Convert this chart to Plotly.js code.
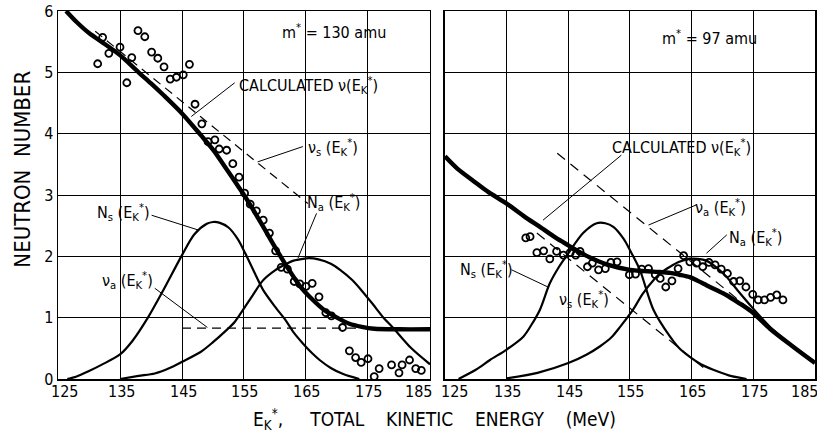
<!DOCTYPE html>
<html>
<head>
<meta charset="utf-8">
<script src="https://cdn.plot.ly/plotly-3.0.1.min.js"></script>
<style>html,body{margin:0;padding:0;background:#fff;}#chart{width:817px;height:434px;}</style>
</head>
<body>
<div id="chart"></div>
<script>
// ---------- tick labels ----------
const xTicks = [125, 135, 145, 155, 165, 175, 185];
const yTicks = [0, 1, 2, 3, 4, 5, 6];

// ---------- LEFT PANEL (m* = 130 amu) ----------
const leftObsE = [131.4,132.2,133.2,135.0,136.1,136.9,137.9,139.0,140.1,141.1,142.1,143.1,144.1,145.2,146.2,147.1,148.2,149.2,150.3,151.0,152.2,153.2,154.2,155.1,156.0,157.0,158.1,159.1,160.1,161.0,162.0,163.1,164.0,165.0,166.0,167.1,168.2,169.1,170.9,172.0,173.0,173.9,175.0,176.0,176.8,178.8,180.0,180.5,181.7,182.7,183.6];
const leftObsN = [5.14,5.57,5.31,5.41,4.83,5.24,5.68,5.58,5.33,5.23,5.09,4.89,4.92,4.96,5.13,4.48,4.16,3.87,3.90,3.75,3.73,3.51,3.29,3.03,2.85,2.74,2.59,2.38,2.09,1.82,1.79,1.59,1.55,1.51,1.56,1.34,1.08,1.03,0.84,0.46,0.35,0.27,0.33,0.04,0.17,0.23,0.10,0.23,0.31,0.17,0.14];

const leftCalcE = [126.3,128,130,132,135,138,140,142,145,148,150,152,154,155,156,158,160,162,164,166,168,170,172,174,176,180,185];
const leftCalcN = [6.0,5.82,5.64,5.5,5.28,5.0,4.82,4.63,4.33,3.98,3.74,3.45,3.15,3.0,2.84,2.5,2.15,1.82,1.52,1.3,1.12,1.0,0.9,0.85,0.82,0.81,0.81];

const leftNuSE = [131, 165.3];
const leftNuSN = [5.67, 2.86];
const leftNuAE = [145, 176];
const leftNuAN = [0.83, 0.83];

const leftNsE = [126.5,128,130,132,135,137,139.5,142,145,147,149,150,151,152.5,154,155.2,157,158.1,160,161.7,163,164.5,166,167.2,169,171,173.6];
const leftNsN = [0,0.04,0.13,0.23,0.4,0.62,1.0,1.45,2.02,2.36,2.53,2.56,2.55,2.47,2.28,2.05,1.67,1.45,1.18,0.96,0.76,0.58,0.42,0.31,0.18,0.08,0];

const leftNaE = [135,138,140.6,143,145,148,150,152,153.5,155,156.5,158,160,161.7,163,164.5,165.5,167,169,170.5,172.5,174,175.7,177.5,179,182,185];
const leftNaN = [0,0.05,0.09,0.18,0.28,0.44,0.6,0.78,0.93,1.15,1.38,1.6,1.77,1.87,1.93,1.96,1.97,1.95,1.88,1.78,1.61,1.44,1.23,1.0,0.84,0.5,0.24];

// ---------- RIGHT PANEL (m* = 97 amu) ----------
const rightObsE = [138.1,138.8,139.9,141.0,142.0,143.1,144.2,145.3,146.2,146.9,148.1,148.9,149.9,151.0,151.9,152.9,154.9,155.9,156.9,158.0,159.1,159.9,160.8,161.8,162.8,163.7,164.7,165.8,166.8,167.8,168.8,169.8,170.8,171.8,172.8,173.8,174.9,175.8,176.8,177.8,178.8,179.8];
const rightObsN = [2.30,2.32,2.06,2.09,1.96,2.08,2.02,2.06,2.02,2.08,1.83,1.89,1.78,1.80,1.90,1.91,1.70,1.71,1.79,1.80,1.70,1.64,1.50,1.60,1.80,2.01,1.91,1.89,1.83,1.90,1.86,1.79,1.72,1.59,1.60,1.50,1.38,1.29,1.29,1.33,1.37,1.29];

const rightCalcE = [125,127,129.6,132,135,138,140.4,143,145,147,148.5,151.2,155,158.8,161.5,163,164.7,166,167.4,169,170.6,172.5,174.7,177.7,181.4,185];
const rightCalcN = [3.63,3.43,3.23,3.05,2.86,2.64,2.48,2.3,2.18,2.06,1.98,1.87,1.78,1.75,1.73,1.7,1.66,1.6,1.53,1.45,1.37,1.25,1.1,0.82,0.53,0.26];

const rightNuAE = [143.2, 177];
const rightNuAN = [3.68, 0.93];
const rightNuSE = [139.9, 167.1];
const rightNuSN = [2.38, 0.17];

const rightNsE = [127.2,130,132.3,135,137.7,139,140.4,142,143.5,145,147.4,149.6,151,152.3,154,155,156.6,158.8,161.5,163,164.7,166.5,168.5,171,173.9];
const rightNsN = [0,0.15,0.31,0.48,0.69,0.88,1.13,1.56,1.83,2.05,2.38,2.54,2.54,2.48,2.28,2.1,1.78,1.13,0.69,0.5,0.36,0.24,0.15,0.06,0];

const rightNaE = [135,140,145,148,150.1,152,153.4,155.5,157,158.8,160,161.5,163,164.7,166,167.4,169,170.6,172.5,174.7,176.5,178.2,181,184.7];
const rightNaN = [0.01,0.1,0.26,0.4,0.53,0.68,0.85,1.13,1.38,1.61,1.73,1.83,1.91,1.96,1.96,1.93,1.82,1.67,1.44,1.18,0.98,0.8,0.57,0.3];

// ---------- text ----------
const NU = "\u03BD";
const EK = "(E<sub>K</sub><sup>*</sup>)";
const FONT = "'Liberation Sans Narrow', 'DejaVu Sans Condensed', 'DejaVu Sans', sans-serif";
const NB = "\u00a0";
const rep = (s, n) => Array(n + 1).join(s);

function line(x, y, xa, ya, w, dash, shape) {
  return {x: x, y: y, xaxis: xa, yaxis: ya, type: 'scatter', mode: 'lines',
          line: {color: '#000', width: w, dash: dash || 'solid', shape: shape || 'spline', smoothing: 0.8},
          hoverinfo: 'skip', showlegend: false};
}
function pts(x, y, xa, ya) {
  return {x: x, y: y, xaxis: xa, yaxis: ya, type: 'scatter', mode: 'markers',
          marker: {symbol: 'circle-open', size: 7, color: '#000', line: {width: 1.8, color: '#000'}},
          hoverinfo: 'skip', showlegend: false};
}

const traces = [
  line(leftNsE, leftNsN, 'x', 'y', 2.2),
  line(leftNaE, leftNaN, 'x', 'y', 2.2),
  line(leftNuSE, leftNuSN, 'x', 'y', 1.2, '9px,6px', 'linear'),
  line(leftNuAE, leftNuAN, 'x', 'y', 1.4, '9px,6px', 'linear'),
  line(leftCalcE, leftCalcN, 'x', 'y', 4.4),
  pts(leftObsE, leftObsN, 'x', 'y'),
  line(rightNsE, rightNsN, 'x2', 'y2', 2.2),
  line(rightNaE, rightNaN, 'x2', 'y2', 2.2),
  line(rightNuAE, rightNuAN, 'x2', 'y2', 1.2, '10px,7px', 'linear'),
  line(rightNuSE, rightNuSN, 'x2', 'y2', 1.2, '10px,7px', 'linear'),
  line(rightCalcE, rightCalcN, 'x2', 'y2', 4.4),
  pts(rightObsE, rightObsN, 'x2', 'y2')
];

function ann(text, x, y, xr, yr, anchor) {
  return {text: text, x: x, y: y, xref: xr, yref: yr, showarrow: false,
          xanchor: anchor || 'left', yanchor: 'middle',
          font: {family: FONT, size: 16, color: '#000'}};
}
function lead(x0, y0, x1, y1, xr, yr) {
  return {type: 'line', xref: xr, yref: yr, x0: x0, y0: y0, x1: x1, y1: y1,
          line: {color: '#000', width: 1}};
}
// x tick labels drawn through each axis scale; edge labels nudged inward as in the reference
function xTickLabels(xr, yr, firstShift, lastShift) {
  return xTicks.map((v, i) => ({
    text: String(v), x: v, y: 0, xref: xr, yref: yr, showarrow: false,
    xanchor: 'center', yanchor: 'top', yshift: -2, borderpad: 0,
    xshift: i === 0 ? firstShift : (i === xTicks.length - 1 ? lastShift : 1),
    font: {family: FONT, size: 16, color: '#000'}
  }));
}

const annotations = [
  ann("m<sup>*</sup> = 130 amu", 160.8, 5.66, 'x', 'y'),
  ann("CALCULATED " + NU + EK, 153.8, 4.79, 'x', 'y'),
  ann(NU + "<sub>s</sub> " + EK, 165.0, 3.78, 'x', 'y'),
  ann("N<sub>a</sub> " + EK, 164.8, 2.87, 'x', 'y'),
  ann("N<sub>s</sub> " + EK, 140.1, 2.72, 'x', 'y', 'right'),
  ann(NU + "<sub>a</sub> " + EK, 140.6, 1.61, 'x', 'y', 'right'),
  ann("m<sup>*</sup> = 97 amu", 159.8, 5.56, 'x2', 'y2'),
  ann("CALCULATED " + NU + EK, 151.7, 3.77, 'x2', 'y2'),
  ann(NU + "<sub>a</sub> " + EK, 165.2, 2.80, 'x2', 'y2'),
  ann("N<sub>a</sub> " + EK, 170.7, 2.30, 'x2', 'y2'),
  ann("N<sub>s</sub> " + EK, 136.3, 1.78, 'x2', 'y2', 'right'),
  ann(NU + "<sub>s</sub> " + EK, 143.2, 1.29, 'x2', 'y2'),
  {text: "E<sub>K</sub><sup>*</sup>," + rep(NB, 5) + "TOTAL" + rep(NB, 4) + "KINETIC" + rep(NB, 4) + "ENERGY" + rep(NB, 4) + "(MeV)",
   x: 0.497, y: -0.11, xref: 'paper', yref: 'paper',
   showarrow: false, xanchor: 'center', yanchor: 'middle', font: {family: FONT, size: 19, color: '#000'}},
  {text: "NEUTRON" + rep(NB, 2) + "NUMBER", x: -0.047, y: 0.57, xref: 'paper', yref: 'paper', textangle: -90,
   showarrow: false, xanchor: 'center', yanchor: 'middle', font: {family: FONT, size: 22, color: '#000'}}
].concat(xTickLabels('x', 'y', 6, -11), xTickLabels('x2', 'y2', 10, -10));

const shapes = [
  lead(153.5, 4.83, 146.5, 4.28, 'x', 'y'),
  lead(164.5, 3.79, 157.2, 3.54, 'x', 'y'),
  lead(166.7, 2.70, 163.7, 1.97, 'x', 'y'),
  lead(140.1, 2.67, 147.6, 2.43, 'x', 'y'),
  lead(140.6, 1.48, 149.1, 0.84, 'x', 'y'),
  lead(153.6, 3.65, 140.9, 2.59, 'x2', 'y2'),
  lead(165.8, 2.84, 158.0, 2.51, 'x2', 'y2'),
  lead(170.7, 2.35, 167.4, 2.05, 'x2', 'y2'),
  lead(135.8, 1.78, 141.7, 1.50, 'x2', 'y2')
];

const xCommon = {range: [125, 185], tickmode: 'array', tickvals: xTicks, showticklabels: false,
  showgrid: true, gridcolor: '#000', gridwidth: 1, zeroline: false, showline: true, mirror: true,
  linecolor: '#000', linewidth: 1.5, ticks: ''};
const yCommon = {range: [0, 6], tickmode: 'array', tickvals: yTicks, ticktext: yTicks.map(String),
  showgrid: true, gridcolor: '#000', gridwidth: 1, zeroline: false, showline: true, mirror: true,
  linecolor: '#000', linewidth: 1.5, ticks: '', tickfont: {family: FONT, size: 16, color: '#000'}};

const layout = {
  width: 817, height: 434,
  margin: {l: 58, r: 2, t: 11, b: 55},
  paper_bgcolor: '#fff', plot_bgcolor: '#fff',
  showlegend: false,
  xaxis: Object.assign({}, xCommon, {domain: [0, 0.4914], anchor: 'y'}),
  yaxis: Object.assign({}, yCommon, {domain: [0, 1], anchor: 'x'}),
  xaxis2: Object.assign({}, xCommon, {domain: [0.5112, 1], anchor: 'y2'}),
  yaxis2: Object.assign({}, yCommon, {domain: [0, 1], anchor: 'x2', showticklabels: false}),
  annotations: annotations,
  shapes: shapes
};

Plotly.newPlot('chart', traces, layout, {staticPlot: true, displayModeBar: false});
</script>
</body>
</html>
